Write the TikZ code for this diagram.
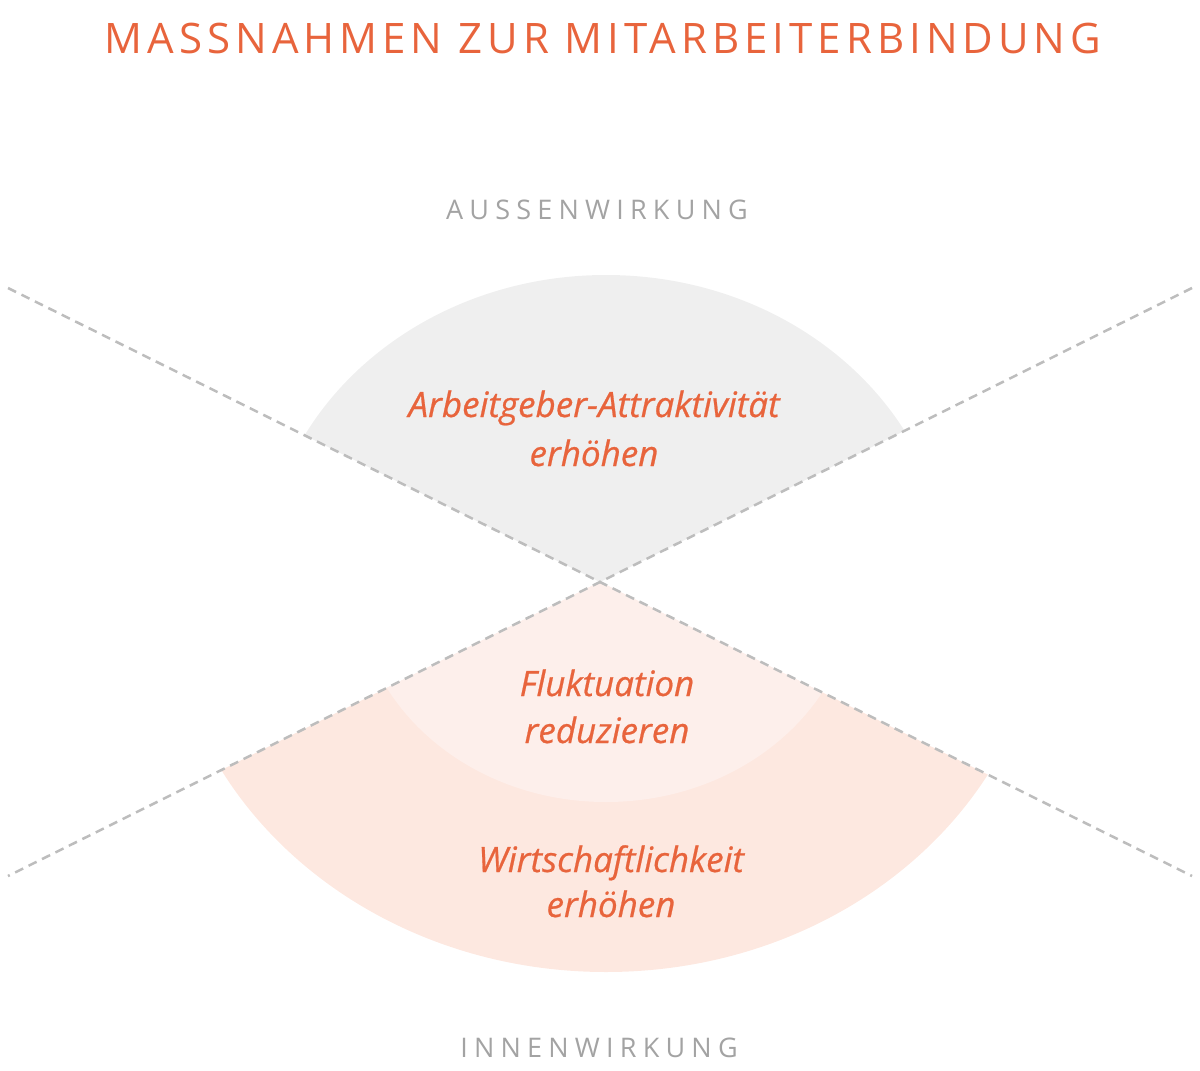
\documentclass[tikz,border=0pt]{standalone}
\usepackage{fontspec}
\setmainfont{Open Sans}
\newfontfamily\titlefont[LetterSpace=11.9]{Open Sans}
\newfontfamily\subfont[LetterSpace=23]{Open Sans}
\newfontfamily\labelfont[FakeBold=0.6]{Open Sans}
\definecolor{accent}{HTML}{E8643C}
\definecolor{subgray}{HTML}{A3A3A3}
\definecolor{wedgegray}{HTML}{EFEFEF}
\definecolor{outerpeach}{HTML}{FDE8E0}
\definecolor{innerpeach}{HTML}{FDEFEB}
\definecolor{dashgray}{HTML}{BDBDBD}
\tikzset{
  dashline/.style={draw=dashgray, line width=2.5pt, dash pattern=on 9pt off 6pt},
  titletext/.style={inner sep=0pt, anchor=base, text=accent, font=\titlefont\fontsize{42}{50}\selectfont},
  subtext/.style={inner sep=0pt, anchor=base, text=subgray, font=\subfont\fontsize{27}{32}\selectfont},
  labeltext/.style={inner sep=0pt, anchor=base, align=center, text=accent},
}
\begin{document}
\begin{tikzpicture}[x=1pt,y=-1pt]
\useasboundingbox (0,0) rectangle (1200,1071);
\coordinate (c) at (600,582);
\coordinate (ec) at (606,582);
\coordinate (tl) at (8,288);
\coordinate (br) at (1192,876);
\coordinate (tr) at (1192,288);
\coordinate (bl) at (8,876);
% upper wedge
\begin{scope}
  \clip (c) -- (-100,234.4) -- (1300,234.4) -- cycle;
  \fill[wedgegray] (ec) ellipse [x radius=343pt, y radius=307pt];
\end{scope}
% lower wedge
\begin{scope}
  \clip (c) -- (-400,1078.6) -- (1600,1078.6) -- cycle;
  \fill[outerpeach] (ec) ellipse [x radius=439pt, y radius=390pt];
  \fill[innerpeach] (ec) ellipse [x radius=250pt, y radius=220pt];
\end{scope}
% dashed cross
\draw[dashline] (tl) -- (br);
\draw[dashline] (tr) -- (bl);
% texts
\node[titletext] (title) at (603,53) {MASSNAHMEN ZUR MITARBEITERBINDUNG};
\node[subtext] (aussen) at (597,219) {AUSSENWIRKUNG};
\node[subtext] (innen) at (599,1057) {INNENWIRKUNG};
\node[labeltext, font=\labelfont\fontsize{35}{49}\selectfont\itshape] (l1) at (594,466) {Arbeitgeber-Attraktivität\\erhöhen};
\node[labeltext, font=\labelfont\fontsize{35}{47}\selectfont\itshape] (l2) at (607,743) {Fluktuation\\reduzieren};
\node[labeltext, font=\labelfont\fontsize{35}{45}\selectfont\itshape] (l3) at (611,917) {Wirtschaftlichkeit\\erhöhen};
\end{tikzpicture}
\end{document}
